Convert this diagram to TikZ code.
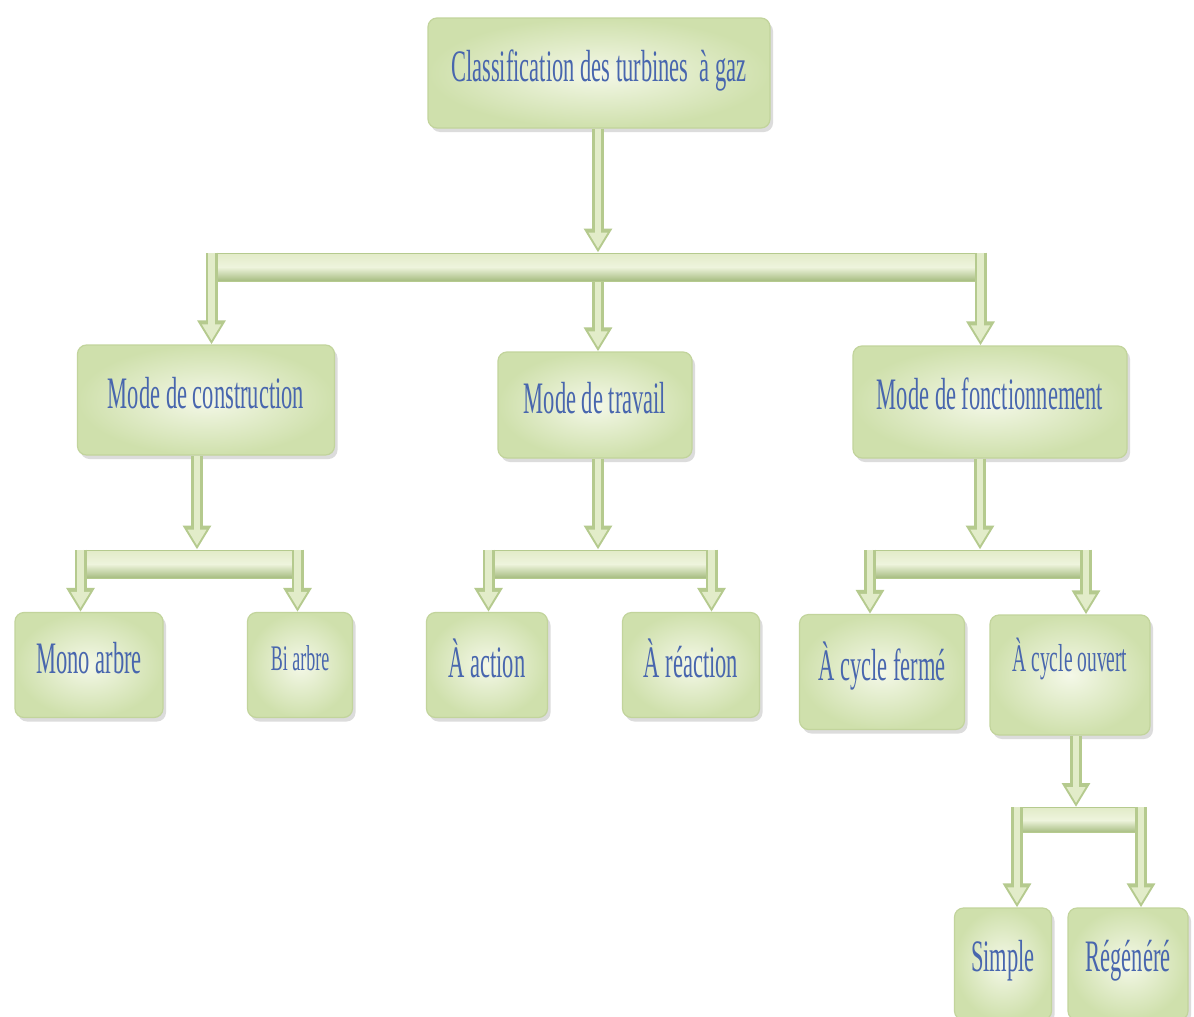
\documentclass[tikz,border=0pt]{standalone}
\usepackage{fontspec}
\newfontfamily\cf[FakeStretch=0.5]{Liberation Serif}
\usetikzlibrary{arrows.meta,shadows}
\definecolor{boxin}{HTML}{F4F8E8}
\definecolor{boxout}{HTML}{CFE0AC}
\definecolor{boxedge}{HTML}{C2D49C}
\definecolor{txtblue}{HTML}{4866AE}
\definecolor{arrowedge}{HTML}{B5CA8E}
\definecolor{arrowfill}{HTML}{E2ECC9}
\definecolor{bartop}{HTML}{E2EBC8}
\definecolor{barmid}{HTML}{EEF4DD}
\definecolor{barbot}{HTML}{A6BC80}
\tikzset{
  box/.style={rectangle, rounded corners=9pt, draw=boxedge, line width=1.2pt,
    inner color=boxin, outer color=boxout,
    drop shadow={shadow xshift=3pt, shadow yshift=-4pt, opacity=.3, fill=black!45},
    text=txtblue, font=\cf\fontsize{45}{48}\selectfont, inner sep=0pt},
  bar/.style={rectangle, draw=arrowedge, line width=1pt, top color=bartop, bottom color=barbot, middle color=barmid, inner sep=0pt, minimum height=28pt},
  conn/.style={draw=arrowedge, line width=12pt, -{Triangle[length=24pt,width=27pt]},
    postaction={draw=arrowfill, line width=6.5pt, -{Triangle[length=16pt,width=18pt]}, shorten >=4pt}}
}
\begin{document}
\begin{tikzpicture}[x=1pt,y=-1pt]
\useasboundingbox[fill=white] (0,0) rectangle (1194,1017);
% boxes
\node[box, minimum width=342pt, minimum height=110pt, text depth=14pt] (top) at (599,73) {Classification des turbines \ à gaz};
\node[box, minimum width=257pt, minimum height=110pt, text depth=14pt] (cons) at (206,400) {Mode de construction};
\node[box, minimum width=194pt, minimum height=106pt, text depth=14pt] (trav) at (595,405) {Mode de travail};
\node[box, minimum width=274pt, minimum height=112pt, text depth=16pt] (fonc) at (990,402) {Mode de fonctionnement};
\node[box, minimum width=148pt, minimum height=105pt, text depth=14pt] (mono) at (89,665) {Mono arbre};
\node[box, minimum width=105pt, minimum height=105pt, font=\cf\fontsize{36}{40}\selectfont, text depth=14pt] (bi) at (300,665) {Bi arbre};
\node[box, minimum width=121pt, minimum height=105pt, text depth=14pt] (act) at (487,665) {À action};
\node[box, minimum width=137pt, minimum height=105pt, text depth=14pt] (rea) at (691,665) {À réaction};
\node[box, minimum width=165pt, minimum height=115pt, text depth=22pt] (ferme) at (882,672) {À cycle fermé};
\node[box, minimum width=160pt, minimum height=120pt, font=\cf\fontsize{39}{42}\selectfont, text depth=40pt] (ouvert) at (1070,675) {À cycle ouvert};
\node[box, minimum width=97pt, minimum height=112pt, text depth=16pt] (simple) at (1003,964) {Simple};
\node[box, minimum width=120pt, minimum height=112pt, text depth=16pt] (rege) at (1128,964) {Régénéré};
% bars
\node[bar, minimum width=780pt] (bar1) at (596,267) {};
\node[bar, minimum width=228pt] (bar2) at (189,564) {};
\node[bar, minimum width=234pt] (bar3) at (600,564) {};
\node[bar, minimum width=227pt] (bar4) at (978,564) {};
\node[bar, minimum width=135pt, minimum height=25pt] (bar5) at (1079,820) {};
% connectors into bars
\draw[conn] ([xshift=-1pt]top.south) -- ([xshift=-1pt]top.south |- bar1.north);
\draw[conn] ([xshift=-9pt]cons.south) -- ([xshift=-9pt]cons.south |- bar2.north);
\draw[conn] ([xshift=3pt]trav.south) -- ([xshift=3pt]trav.south |- bar3.north);
\draw[conn] ([xshift=-10pt]fonc.south) -- ([xshift=-10pt]fonc.south |- bar4.north);
\draw[conn] ([xshift=6pt]ouvert.south) -- ([xshift=6pt]ouvert.south |- bar5.north);
% connectors out of bars
\draw[conn] ([xshift=6pt]bar1.north west) -- ([xshift=6pt]bar1.north west |- cons.north);
\draw[conn] (bar1.south -| trav.north) ++(3pt,0) coordinate (m1) -- (m1 |- trav.north);
\draw[conn] ([xshift=-6pt]bar1.north east) -- ([xshift=-6pt]bar1.north east |- fonc.north);
\draw[conn] ([xshift=6pt]bar2.north west) -- ([xshift=6pt]bar2.north west |- mono.north);
\draw[conn] ([xshift=-6pt]bar2.north east) -- ([xshift=-6pt]bar2.north east |- bi.north);
\draw[conn] ([xshift=6pt]bar3.north west) -- ([xshift=6pt]bar3.north west |- act.north);
\draw[conn] ([xshift=-6pt]bar3.north east) -- ([xshift=-6pt]bar3.north east |- rea.north);
\draw[conn] ([xshift=6pt]bar4.north west) -- ([xshift=6pt]bar4.north west |- ferme.north);
\draw[conn] ([xshift=-6pt]bar4.north east) -- ([xshift=-6pt]bar4.north east |- ouvert.north);
\draw[conn] ([xshift=6pt]bar5.north west) -- ([xshift=6pt]bar5.north west |- simple.north);
\draw[conn] ([xshift=-6pt]bar5.north east) -- ([xshift=-6pt]bar5.north east |- rege.north);
\end{tikzpicture}
\end{document}
